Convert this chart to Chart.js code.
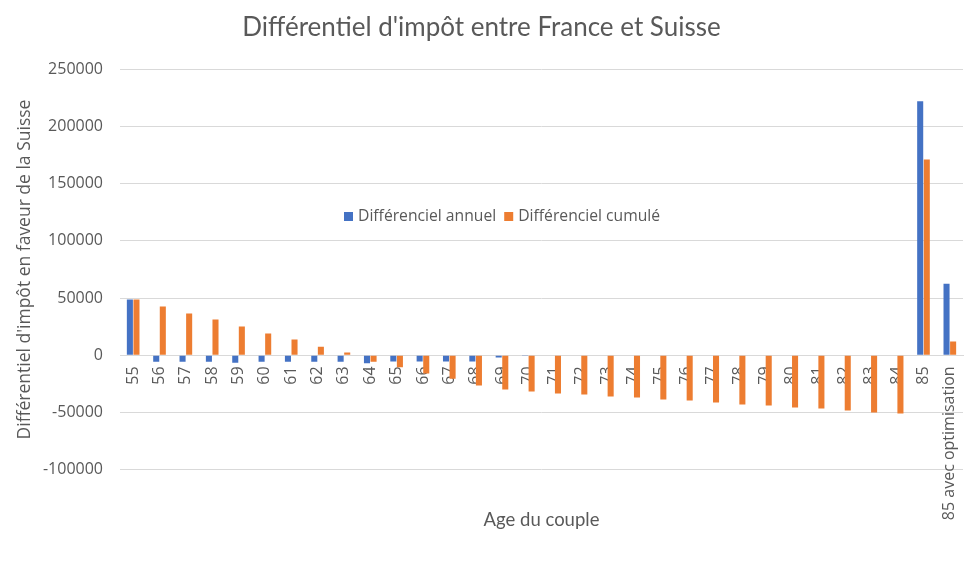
<!DOCTYPE html>
<html><head><meta charset="utf-8">
<script src="https://cdn.jsdelivr.net/npm/chart.js@4/dist/chart.umd.min.js"></script>
<style>html,body{margin:0;padding:0;background:#fff}#wrap{width:970px;height:583px}</style>
</head><body><div id="wrap"><canvas id="c" width="970" height="583"></canvas></div>
<script>
const chartTitle = "Différentiel d'impôt entre France et Suisse";
const xAxisTitle = "Age du couple";
const yAxisTitle = "Différentiel d'impôt en faveur de la Suisse";
const categories = ['55','56','57','58','59','60','61','62','63','64','65','66','67','68','69','70',
  '71','72','73','74','75','76','77','78','79','80','81','82','83','84','85','85 avec optimisation'];
const seriesNames = ['Différenciel annuel', 'Différenciel cumulé'];
const annualValues = [48800,-5500,-5500,-5500,-6400,-5500,-5500,-5500,-5500,-7000,-5300,-5300,-5300,-5300,-1800,-600,
  0,0,0,0,0,0,0,0,0,0,0,0,0,0,222000,62500];
const cumulativeValues = [48800,42700,36600,31300,25200,19000,13800,7600,2400,-5700,-10500,-15800,-20400,-26300,-29800,-31600,
  -33300,-34200,-36000,-36800,-38600,-39500,-41200,-43000,-43900,-45600,-46500,-48200,-50000,-50900,171000,12000];
const yMin = -100000, yMax = 250000, yStep = 50000;

const TXT = '#595959', GRID = '#d9d9d9';
const FONT = '"Open Sans", "Noto Sans", sans-serif';

const innerLegend = {
  id: 'innerLegend',
  afterDraw(chart) {
    const ctx = chart.ctx;
    ctx.save();
    ctx.font = '15.7px ' + FONT;
    ctx.textBaseline = 'middle';
    ctx.textAlign = 'left';
    let x = 344; const y = 217;
    chart.data.datasets.forEach(ds => {
      ctx.fillStyle = ds.backgroundColor;
      ctx.fillRect(x, y - 5, 9, 9);
      x += 14;
      ctx.fillStyle = TXT;
      ctx.fillText(ds.label, x, y);
      x += ctx.measureText(ds.label).width + 8;
    });
    ctx.restore();
  }
};

new Chart(document.getElementById('c'), {
  type: 'bar',
  data: {
    labels: categories,
    datasets: [
      { label: seriesNames[0], data: annualValues, backgroundColor: '#4472c4', xAxisID: 'x', yAxisID: 'y',
        categoryPercentage: 0.5, barPercentage: 0.92 },
      { label: seriesNames[1], data: cumulativeValues, backgroundColor: '#ed7d31', xAxisID: 'x', yAxisID: 'y',
        categoryPercentage: 0.5, barPercentage: 0.92 }
    ]
  },
  options: {
    responsive: false,
    animation: false,
    events: [],
    layout: { autoPadding: false, padding: { left: 0, right: 7, top: 0, bottom: 0 } },
    plugins: {
      legend: { display: false },
      tooltip: { enabled: false },
      title: { display: true, text: chartTitle, color: TXT,
        font: { family: 'Lato, ' + FONT, size: 26, weight: 'normal' },
        padding: { top: 12, bottom: 26 } }
    },
    scales: {
      x: {
        type: 'category', position: { y: 0 }, offset: true,
        afterFit: s => { s.paddingLeft = 0; s.paddingRight = 0; },
        grid: { display: false, drawTicks: false },
        border: { display: true, color: GRID },
        ticks: { minRotation: 90, maxRotation: 90, autoSkip: false, padding: 11, color: TXT,
          font: { family: FONT, size: 16 } }
      },
      x2: {
        type: 'category', position: 'bottom', labels: categories, offset: true,
        grid: { display: false, drawTicks: false },
        border: { display: false },
        ticks: { display: false },
        title: { display: true, text: xAxisTitle, color: TXT,
          font: { family: 'Lato, ' + FONT, size: 18.5 }, padding: { top: 39, bottom: 52 } }
      },
      y: {
        min: yMin, max: yMax,
        afterFit: scale => { scale.width = 120; },
        grid: { color: GRID, drawTicks: false, lineWidth: 1 },
        border: { display: false },
        ticks: { stepSize: yStep, padding: 17, color: TXT, callback: v => String(v),
          font: { family: FONT, size: 16 } },
        title: { display: true, text: yAxisTitle, color: TXT,
          font: { family: FONT, size: 17.5 }, padding: { top: 15, bottom: 8 } }
      }
    }
  },
  plugins: [innerLegend]
});
</script>
</body></html>
